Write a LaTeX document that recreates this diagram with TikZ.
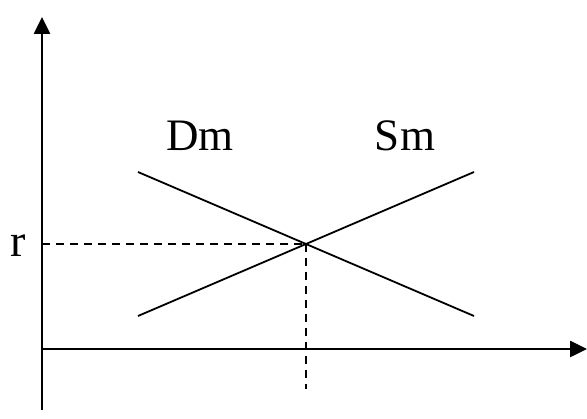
\documentclass[tikz,border=0pt]{standalone}
\usepackage{fontspec}
\setmainfont{Liberation Serif}
\usetikzlibrary{
  arrows.meta,
  positioning
}
\tikzset{
  axis/.style={
    -{Triangle[length=17pt,width=16pt]},
    line width=2.6pt,
    draw=black
  },
  curve/.style={
    line width=1.8pt,
    draw=black
  },
  guide/.style={
    line width=1.8pt,
    draw=black,
    dash pattern=on 8pt off 6pt
  },
  label/.style={
    inner sep=0pt,
    font=\fontsize{45}{52}\selectfont
  }
}

\begin{document}
\begin{tikzpicture}[x=1pt, y=-1pt]
  \useasboundingbox (0,0) rectangle (587,419);
  \coordinate (ybot) at (42,410);
  \coordinate (ytop) at (42,17);
  \coordinate (xleft) at (42,349);
  \coordinate (xright) at (587,349);
  \coordinate (dtop) at (138,172);
  \coordinate (dbot) at (474,316);
  \coordinate (sbot) at (138,316);
  \coordinate (stop) at (474,172);
  \coordinate (eq) at (306,244);
  \coordinate (ry) at (42,244);
  \coordinate (qx) at (306,389);

  \node[label, anchor=base] (dm) at (200,151) {Dm};
  \node[label, anchor=base] (sm) at (405,151) {Sm};
  \node[label, anchor=base, font=\fontsize{46}{52}\selectfont] (r) at (18,257) {r};

  \draw[axis] (ybot) -- (ytop);
  \draw[axis] (xleft) -- (xright);
  \draw[curve] (dtop) -- (dbot);
  \draw[curve] (sbot) -- (stop);
  \draw[guide] (ry) -- (eq);
  \draw[guide] (eq) -- (qx);
\end{tikzpicture}
\end{document}
